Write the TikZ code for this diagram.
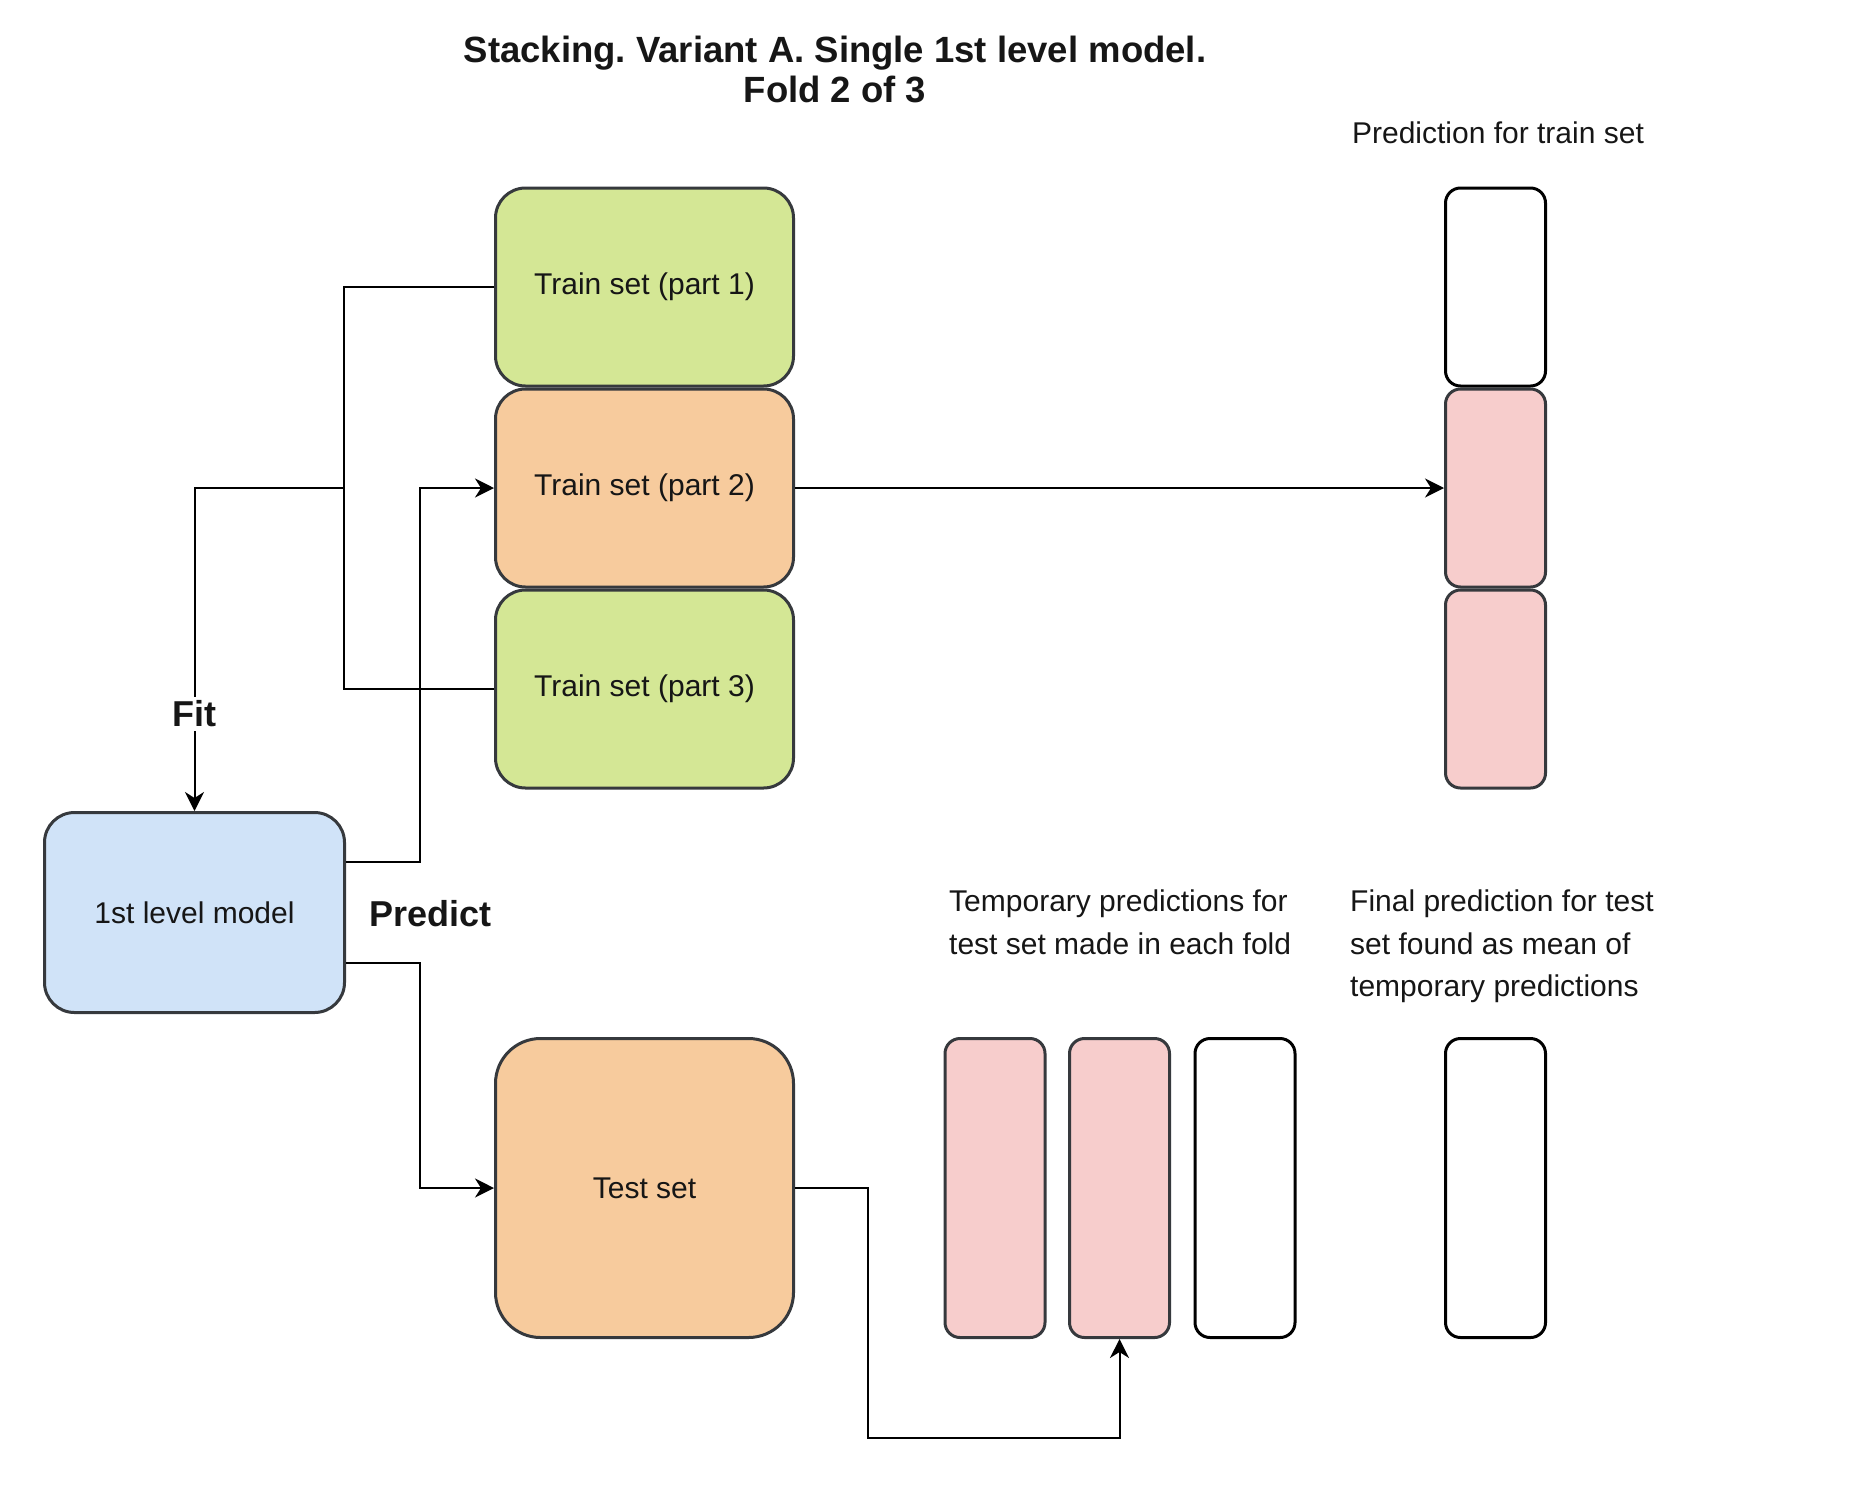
\documentclass[tikz,border=0pt]{standalone}
\usepackage{fontspec}
\setmainfont{Liberation Sans}
\usetikzlibrary{arrows.meta,calc}
\definecolor{bgreen}{RGB}{212,231,149}
\definecolor{borange}{RGB}{247,203,157}
\definecolor{bblue}{RGB}{208,227,248}
\definecolor{bpink}{RGB}{247,205,204}
\definecolor{bstroke}{RGB}{54,57,61}
\definecolor{txt}{RGB}{22,22,22}
\frenchspacing
\begin{document}
\begin{tikzpicture}[x=1pt,y=-1pt,
  box/.style={draw=bstroke, line width=3pt, rectangle, inner sep=0pt, text=txt,
    font=\fontsize{30}{36}\selectfont},
  part/.style={box, minimum width=298pt, minimum height=198pt, rounded corners=30pt},
  colbox/.style={box, minimum width=100pt, minimum height=198pt, rounded corners=15pt},
  tmpbox/.style={box, minimum width=100pt, minimum height=299pt, rounded corners=15pt},
  blank/.style={fill=white, draw=black},
  lbl/.style={inner sep=0pt, text=txt, font=\fontsize{30}{42.5}\selectfont},
  boldlbl/.style={inner sep=0pt, text=txt, font=\fontsize{36}{40}\selectfont\bfseries},
  titlelbl/.style={inner sep=0pt, text=txt, font=\fontsize{36.5}{40}\selectfont\bfseries},
  conn/.style={draw=black, line width=2pt},
  arr/.style={-{Stealth[length=19pt,width=19pt,inset=6pt]}}
]
\useasboundingbox (0,0) rectangle (1860,1502);

% title
\node[titlelbl, anchor=base] (t1) at (835,62) {Stacking. Variant A. Single 1st level model.};
\node[titlelbl, anchor=base] (t2) at (835,102) {Fold 2 of 3};

% train set parts
\node[part, fill=bgreen]  (p1) at (644.5,287) {Train set (part 1)};
\node[part, fill=borange] (p2) at (644.5,488) {Train set (part 2)};
\node[part, fill=bgreen]  (p3) at (644.5,689) {Train set (part 3)};

% prediction for train set column
\node[colbox, blank]      (r1) at (1495.5,287) {};
\node[colbox, fill=bpink] (r2) at (1495.5,488) {};
\node[colbox, fill=bpink] (r3) at (1495.5,689) {};
\node[lbl, anchor=base] (lp) at (1498,143) {Prediction for train set};

% model and test set
\node[box, fill=bblue, minimum width=300pt, minimum height=200pt, rounded corners=30pt] (m) at (194.5,912.5) {1st level model};
\node[box, fill=borange, minimum width=298pt, minimum height=299pt, rounded corners=45pt] (ts) at (644.5,1188) {Test set};

% temporary predictions and final prediction
\node[tmpbox, fill=bpink] (q1) at (995,1188) {};
\node[tmpbox, fill=bpink] (q2) at (1119.5,1188) {};
\node[tmpbox, blank]      (q3) at (1245,1188) {};
\node[tmpbox, blank]      (fin) at (1495.5,1188) {};

\node[lbl, anchor=north west, align=left] (lt) at (949,890) {Temporary predictions for\\test set made in each fold};
\node[lbl, anchor=north west, align=left] (lf) at (1350,890) {Final prediction for test\\set found as mean of\\temporary predictions};
\node[boldlbl, anchor=base west] (lpred) at (369,926) {Predict};

% connectors
\coordinate (j1) at (344,488);
\draw[conn] (p1.west) -| (j1) |- (p3.west);
\draw[conn, arr] (j1) -| (m.north)
  node[boldlbl, fill=white, inner sep=4pt, pos=0.85] (lfit) {Fit};
\draw[conn, arr] ($(m.north east)!0.25!(m.south east)$) -- ++(74,0) |- (p2.west);
\draw[conn, arr] ($(m.north east)!0.75!(m.south east)$) -- ++(74,0) |- (ts.west);
\draw[conn, arr] (p2.east) -- (r2.west);
\draw[conn, arr] (ts.east) -- ++(73,0) -- ++(0,250) -| (q2.south);
\end{tikzpicture}
\end{document}
